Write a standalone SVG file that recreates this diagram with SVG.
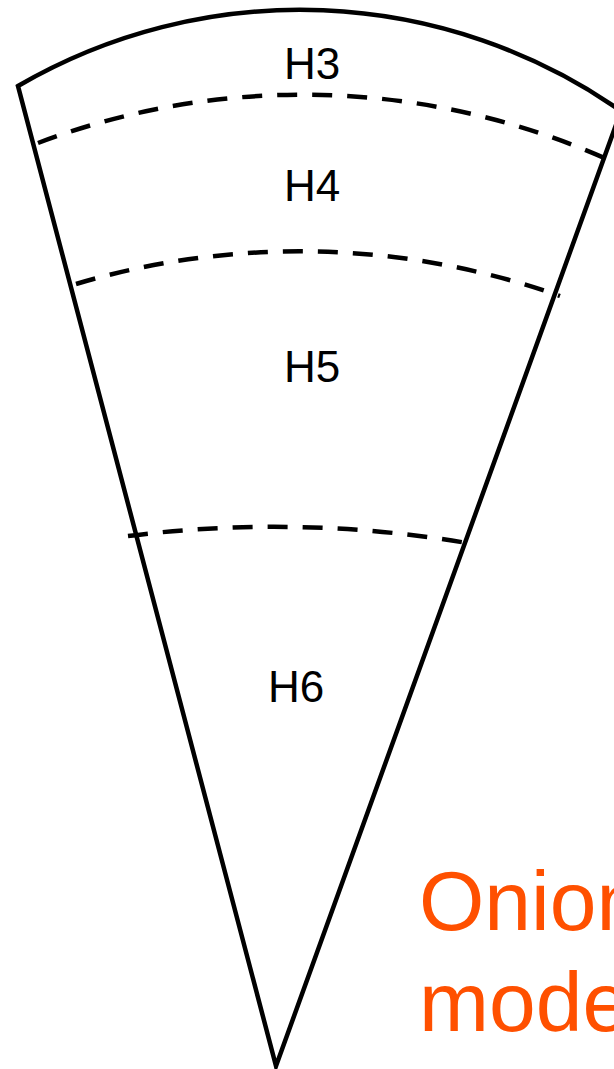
<svg xmlns="http://www.w3.org/2000/svg" width="614" height="1069" viewBox="0 0 614 1069">
<style>
.outline{fill:none;stroke:#000;stroke-width:4.5;stroke-linejoin:miter}
.layer{fill:none;stroke:#000;stroke-width:4.5;stroke-dasharray:20 15}
.lbl{font-family:"Liberation Sans",Arial,sans-serif;font-size:44px;fill:#000;text-anchor:middle}
.title{font-family:"Liberation Sans",Arial,sans-serif;font-size:84px;fill:#FF5000}
</style>
<rect width="614" height="1069" fill="#fff"/>
<g id="wedge">
<path class="outline" d="M18,86 A560,560 0 0,1 621,111 L276,1066 Z"/>
</g>
<g id="connectors">
<path class="layer" d="M38,143 A750,750 0 0,1 609,160"/>
<path class="layer" d="M76,284 A782,782 0 0,1 560,296"/>
<path class="layer" d="M128,536 A1160,1160 0 0,1 467,543"/>
</g>
<g id="H3"><text class="lbl" x="312" y="79">H3</text></g>
<g id="H4"><text class="lbl" x="312" y="201">H4</text></g>
<g id="H5"><text class="lbl" x="312" y="382">H5</text></g>
<g id="H6"><text class="lbl" x="296" y="702">H6</text></g>
<g id="title">
<text class="title" x="419" y="930">Onion</text>
<text class="title" x="419" y="1031">mode</text>
</g>
</svg>
